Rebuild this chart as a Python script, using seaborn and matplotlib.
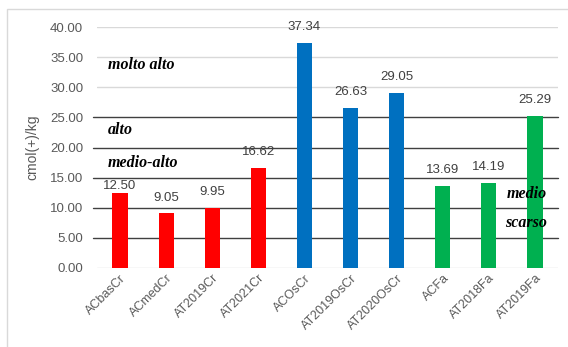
import matplotlib
matplotlib.use("Agg")
import matplotlib.pyplot as plt
import seaborn as sns
import pandas as pd
from matplotlib.patches import Rectangle

# Cation exchange capacity by sample
samples = ["ACbasCr", "ACmedCr", "AT2019Cr", "AT2021Cr", "ACOsCr",
           "AT2019OsCr", "AT2020OsCr", "ACFa", "AT2018Fa", "AT2019Fa"]
values = [12.50, 9.05, 9.95, 16.62, 37.34, 26.63, 29.05, 13.69, 14.19, 25.29]
groups = ["Cr", "Cr", "Cr", "Cr", "OsCr", "OsCr", "OsCr", "Fa", "Fa", "Fa"]
group_colors = {"Cr": "#FF0000", "OsCr": "#0070C0", "Fa": "#00B050"}

# Class boundaries and class names
class_bounds = [5, 10, 15, 20, 25]
class_labels = ["molto alto", "alto", "medio-alto", "medio", "scarso"]
class_label_y = [33.7, 22.9, 17.4, 12.2, 7.5]
y_ticks = [0, 5, 10, 15, 20, 25, 30, 35, 40]

df = pd.DataFrame({"sample": samples, "value": values, "group": groups})

sns.set_theme(style="white")
plt.rcParams["font.family"] = ["Liberation Sans", "DejaVu Sans"]

fig = plt.figure(figsize=(5.68, 3.47), dpi=100)
ax = fig.add_axes([97 / 568, 1 - 268 / 347, 461 / 568, 241 / 347])

# Outer chart frame
fig.patches.append(Rectangle((7 / 568, -0.1), 1.2, 1 - 9 / 347 + 0.1,
                             transform=fig.transFigure, fill=False,
                             edgecolor="#D9D9D9", linewidth=1.0, zorder=0))

sns.barplot(data=df, x="sample", y="value", hue="group", palette=group_colors,
            width=0.33, dodge=False, legend=False, saturation=1,
            linewidth=0, ax=ax, zorder=3)

ax.set_ylim(0, 40)
ax.set_yticks(y_ticks)
ax.set_yticklabels([f"{t:.2f}" for t in y_ticks], color="#595959", fontsize=9.5)
ax.tick_params(axis="y", length=0, pad=10)
ax.tick_params(axis="x", length=0, pad=3)
ax.set_xlabel("")
ax.set_ylabel("cmol(+)/kg", color="#595959", fontsize=10)
ax.yaxis.set_label_coords(-0.125, 0.5)
plt.setp(ax.get_xticklabels(), rotation=45, ha="right", rotation_mode="anchor",
         color="#595959", fontsize=9)

for s in ax.spines.values():
    s.set_visible(False)

# Light gridlines
for t in [0, 30, 35, 40]:
    ax.axhline(t, color="#D9D9D9", linewidth=1.0, zorder=1)

# Class boundaries
for b in class_bounds:
    ax.plot([-0.009, 1.0], [b, b], transform=ax.get_yaxis_transform(),
            color="#404040", linewidth=1.0, zorder=2, clip_on=False)

# Value labels (the first one sits right on its bar)
label_offset = [0.1] + [1.6] * (len(values) - 1)
for i, (v, off) in enumerate(zip(values, label_offset)):
    ax.text(i, v + off, f"{v:.2f}", ha="center", va="bottom",
            color="#404040", fontsize=9.5, zorder=4)

# Class names
label_left = [True, True, True, False, False]
for name, left, y in zip(class_labels, label_left, class_label_y):
    ax.text(-0.27 if left else 9.25, y, name,
            ha="left" if left else "right", va="center", fontsize=11.5,
            fontweight="bold", fontstyle="italic",
            family="Liberation Serif", color="black", zorder=5)

ax.set_xlim(-0.5, 9.5)
fig.savefig("out.png", dpi=100)
